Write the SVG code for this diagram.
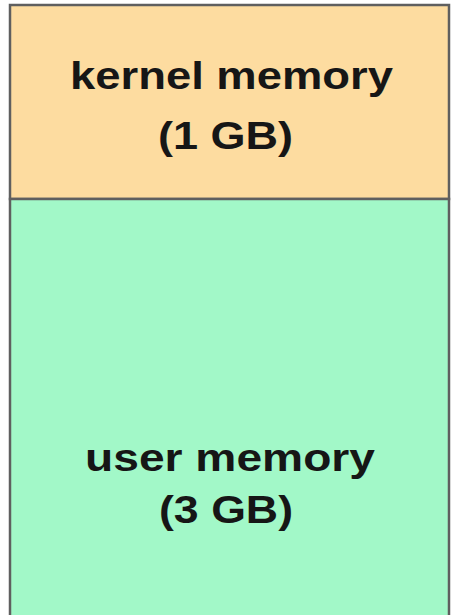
<svg xmlns="http://www.w3.org/2000/svg" width="455" height="615" viewBox="0 0 455 615">
<style>
.t{font-family:"Liberation Sans",Arial,sans-serif;font-weight:bold;font-size:38px;fill:#161616}
.b{stroke:#5f5f5f;stroke-width:2.5}
</style>
<rect x="0" y="0" width="455" height="615" fill="#ffffff"/>
<g id="kernel">
<rect class="b" x="10" y="5" width="439" height="194" fill="#fddca0"/>
<text class="t" x="70" y="89" textLength="323" lengthAdjust="spacingAndGlyphs">kernel memory</text>
<text class="t" x="158" y="149" textLength="135" lengthAdjust="spacingAndGlyphs">(1 GB)</text>
</g>
<g id="user">
<rect class="b" x="10" y="199" width="439" height="430" fill="#a2f8c8"/>
<text class="t" x="85" y="471" textLength="290" lengthAdjust="spacingAndGlyphs">user memory</text>
<text class="t" x="159" y="523" textLength="134" lengthAdjust="spacingAndGlyphs">(3 GB)</text>
</g>
<g id="connectors"></g>
</svg>
